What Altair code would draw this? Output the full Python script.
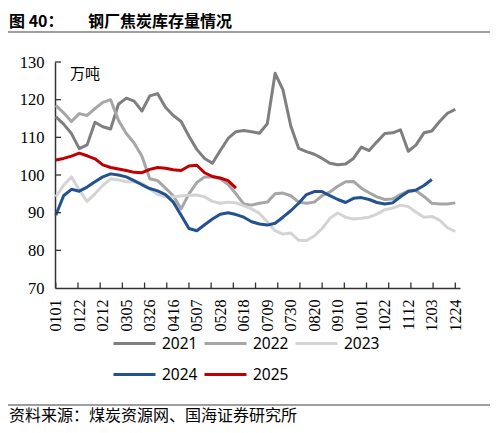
import pandas as pd
import numpy as np

import altair as alt

# weekly stock of coke at steel mills, 10k tonnes
years = ['2021', '2022', '2023', '2024', '2025']
colors = ['#7F7F7F', '#A6A6A6', '#D4D4D4', '#22528F', '#C00000']

s2021 = [115.5, 113.5, 111, 107, 108, 114, 112.8, 112.2, 118.8, 120.4, 119.6, 117, 121, 121.6,
         118, 115.8, 114.2, 110.3, 106.8, 104.4, 103.1, 106.5, 109.7, 111.5, 111.8, 111.5, 111.1,
         113.6, 127, 122.6, 113, 107.1, 106.2, 105.5, 104.4, 103.1, 102.7, 102.9, 104.4, 107.4,
         106.5, 108.8, 111, 111.2, 112, 106.3, 108, 111.2, 111.7, 114.2, 116.4, 117.4]
s2022 = [118.5, 116.5, 114.2, 116.3, 115.8, 117.6, 119.3, 120, 114.5, 111, 108.5, 105, 99, 98.5,
         96.5, 94.5, 91, 95, 98, 99.5, 99.5, 99, 97.5, 95, 92.3, 92, 92.5, 92.8, 95, 95.2, 94.5,
         92.8, 92.5, 92.8, 94.5, 95.5, 97, 98.2, 98.3, 96.5, 95.3, 94.2, 93.5, 93.6, 94.8, 95.8,
         95.8, 94.3, 92.5, 92.3, 92.3, 92.6]
s2023 = [94.2, 97.3, 99.5, 96, 93, 95, 97.2, 99, 98.7, 98.2, 98.2, 97.8, 96.3, 94.8, 94.2, 94.2,
         94.4, 94.6, 94.7, 94.2, 93, 92.5, 92.8, 92.6, 91.8, 91, 89.8, 87.6, 85.2, 84.3, 84.6,
         82.7, 82.6, 83.8, 85.8, 88.5, 89.9, 88.8, 88.3, 88.5, 88.8, 89.6, 90.8, 91.2, 92, 91.6,
         90.1, 88.8, 89, 88, 86, 85]
s2024 = [89.3, 94.5, 96.2, 95.7, 96.8, 98.2, 99.5, 100.3, 100, 99.5, 98.5, 97.4, 96.4, 95.8,
         94.8, 92.8, 89.3, 85.8, 85.2, 86.8, 88.3, 89.6, 90, 89.5, 88.8, 87.6, 87, 86.7, 87.2,
         88.8, 90.5, 92.5, 94.8, 95.6, 95.6, 94.5, 93.5, 92.7, 93.8, 94, 93.5, 92.7, 92.3, 92.6,
         94.2, 95.6, 96, 97.2, 98.8]
s2025 = [104, 104.4, 105, 105.8, 105.1, 104.3, 102.7, 102, 101.6, 101.2, 100.7, 100.6, 101.5,
         102, 101.8, 101.4, 101.2, 102.4, 102.6, 100.6, 99.6, 99.2, 98.5, 96.5]

tick_labels = ['0101', '0122', '0212', '0305', '0326', '0416', '0507', '0528', '0618', '0709',
               '0730', '0820', '0910', '1001', '1022', '1112', '1203', '1224']
y_ticks = [70, 80, 90, 100, 110, 120, 130]

title_no = '图 40：'
title_text = '钢厂焦炭库存量情况'
unit_text = '万吨'
source_text = '资料来源：煤炭资源网、国海证券研究所'

W, H = 405, 226
axis_color = '#333333'
serif = 'Liberation Serif'
cjk = 'Noto Sans CJK SC'

df = pd.concat([
    pd.DataFrame({'week': range(len(s)), 'stock': s, 'year': y})
    for y, s in zip(years, [s2021, s2022, s2023, s2024, s2025])
])

label_vals = [3 * i for i in range(len(tick_labels))]
label_expr = '[' + ','.join(f"'{t}'" for t in tick_labels) + '][round(datum.value / 3)]'

x_scale = alt.Scale(domain=[-0.1, 51.6], nice=False, zero=False)
y_scale = alt.Scale(domain=[70, 130], nice=False, zero=False)

# the same axis objects go to every layer so the merged axes keep all settings
x_axis = alt.Axis(values=label_vals, labelExpr=label_expr, labelAngle=-90,
                  ticks=False, tickSize=0, grid=False, title=None,
                  labelOverlap=False, labelFlush=False,
                  labelFont=serif, labelFontSize=16, labelColor='black',
                  labelPadding=11, domainColor=axis_color, domainWidth=1.5)
y_axis = alt.Axis(values=y_ticks, ticks=False, tickSize=0, grid=False, title=None,
                  labelOverlap=False, labelFlush=False,
                  labelFont=serif, labelFontSize=16.5, labelColor='black',
                  labelPadding=11, domainColor=axis_color, domainWidth=1.5)

lines = alt.Chart(df).mark_line(strokeWidth=3, strokeJoin='round').encode(
    x=alt.X('week:Q', scale=x_scale, axis=x_axis),
    y=alt.Y('stock:Q', scale=y_scale, axis=y_axis),
    color=alt.Color('year:N', scale=alt.Scale(domain=years, range=colors),
                    legend=alt.Legend(title=None, orient='none', legendX=57, legendY=259,
                                      direction='horizontal', columns=3,
                                      symbolType='stroke', symbolSize=1764,
                                      symbolStrokeWidth=3, labelFont='Noto Sans',
                                      labelFontSize=15.5, labelColor='black', labelOffset=5,
                                      columnPadding=0, rowPadding=-12))
)

# ticks point into the plot, as in the reference
x_tick_df = pd.DataFrame({'t': np.linspace(0, 51, 19)})
x_tick_marks = alt.Chart(x_tick_df).mark_rule(color=axis_color, strokeWidth=1.3).encode(
    x=alt.X('t:Q', scale=x_scale, axis=x_axis), y=alt.value(H), y2=alt.value(H - 5.5)
)
y_tick_df = pd.DataFrame({'v': y_ticks[1:]})
y_tick_marks = alt.Chart(y_tick_df).mark_rule(color=axis_color, strokeWidth=1.3).encode(
    y=alt.Y('v:Q', scale=y_scale, axis=y_axis), x=alt.value(0), x2=alt.value(6)
)


def text_layer(text, x, y, size, font=cjk, weight='normal', baseline='middle'):
    return alt.Chart(pd.DataFrame({'t': [text]})).mark_text(
        align='left', baseline=baseline, font=font, fontSize=size, fontWeight=weight,
        color='black'
    ).encode(x=alt.value(x), y=alt.value(y), text='t:N')


def rule_layer(y):
    return alt.Chart(pd.DataFrame({'t': [0]})).mark_rule(color='#7F7F7F', strokeWidth=1.5).encode(
        x=alt.value(-50), x2=alt.value(435), y=alt.value(y)
    )


chart = alt.layer(
    lines, x_tick_marks, y_tick_marks,
    text_layer(title_no, -46, -35, 16, weight='bold', baseline='alphabetic'),
    text_layer(title_text, 33, -35, 16, weight='bold', baseline='alphabetic'),
    text_layer(unit_text, 15, 12, 15),
    text_layer(source_text, -46, 354, 16),
    rule_layer(-30),
    rule_layer(343),
).properties(
    width=W, height=H,
    padding={'left': 47, 'top': 54, 'right': 30, 'bottom': 137},
    autosize=alt.AutoSizeParams(type='none')
).configure_view(stroke=None).configure_axis(labelOverlap=False)

chart.save('out.html', embed_options={'renderer': 'svg', 'actions': False})
